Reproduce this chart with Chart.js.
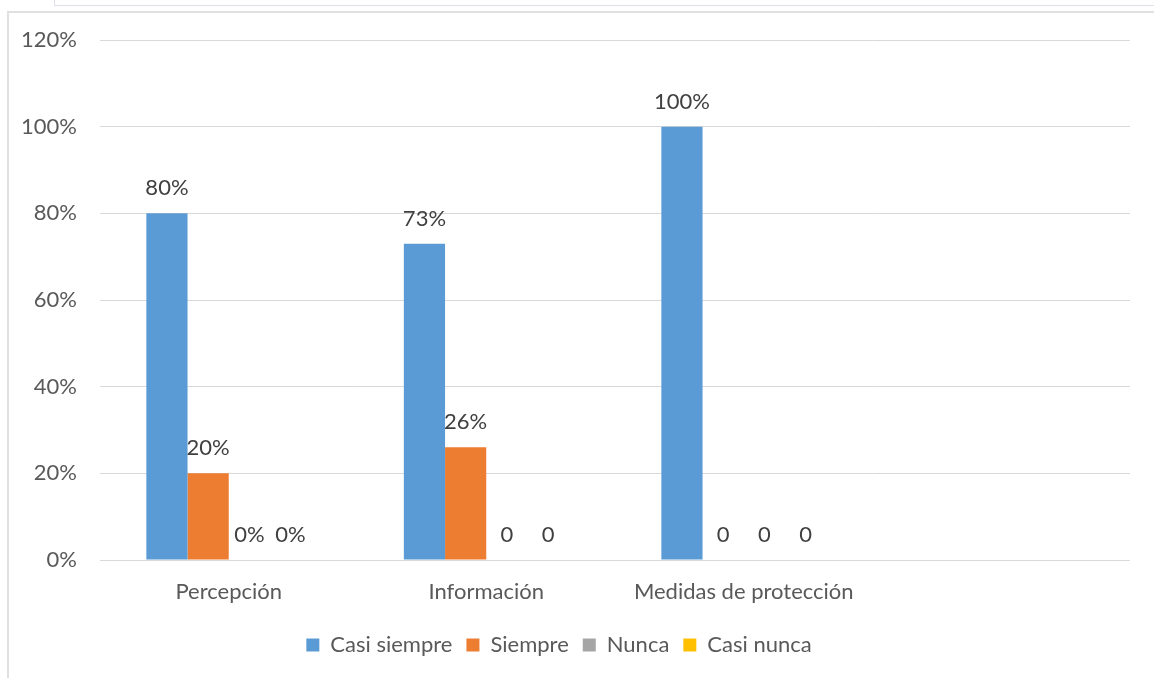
<!DOCTYPE html>
<html>
<head>
<meta charset="utf-8">
<script src="https://cdn.jsdelivr.net/npm/chart.js@4.4.0/dist/chart.umd.min.js"></script>
<style>
body { margin: 0; background: #fff; overflow: hidden; }
#wrap { position: relative; width: 1154px; height: 678px; overflow: hidden; }
#box1 { position: absolute; left: 54px; top: -20px; width: 1200px; height: 24px; border: 1px solid #dde0e8; }
#box2 { position: absolute; left: 7px; top: 11px; width: 1200px; height: 800px; border: 2px solid #e0e0e0; }
#chart { position: absolute; left: -12px; top: 0; }
</style>
</head>
<body>
<div id="wrap">
  <div id="box1"></div>
  <div id="box2"></div>
  <canvas id="chart" width="1142" height="678"></canvas>
</div>
<script>
var categories = ['Percepción', 'Información', 'Medidas de protección', '']
var seriesNames = ['Casi siempre', 'Siempre', 'Nunca', 'Casi nunca']
var seriesColors = ['#5B9BD5', '#ED7D31', '#A5A5A5', '#FFC000']

var casiSiempre = [0.80, 0.73, 1.00, null]
var siempre = [0.20, 0.26, 0, null]
var nunca = [0, 0, 0, null]
var casiNunca = [0, 0, 0, null]

// the labels as printed over each bar (some zeros show without %)
var casiSiempreLabels = ['80%', '73%', '100%', '']
var siempreLabels = ['20%', '26%', '0', '']
var nuncaLabels = ['0%', '0', '0', '']
var casiNuncaLabels = ['0%', '0', '0', '']

var yTickLabels = ['0%', '20%', '40%', '60%', '80%', '100%', '120%']

var FONT = 'Lato'
var FSIZE = 22

var values = [casiSiempre, siempre, nunca, casiNunca]
var valueLabels = [casiSiempreLabels, siempreLabels, nuncaLabels, casiNuncaLabels]

var barLabels = {
    id: 'barLabels',
    afterDatasetsDraw(chart) {
        var ctx = chart.ctx
        ctx.save()
        ctx.font = FSIZE + 'px ' + FONT
        ctx.fillStyle = '#404040'
        ctx.textAlign = 'center'
        ctx.textBaseline = 'middle'
        chart.data.datasets.forEach((ds, i) => {
            chart.getDatasetMeta(i).data.forEach((bar, j) => {
                var txt = valueLabels[i][j]
                if (!txt) return
                ctx.fillText(txt, bar.x, bar.y - 25)
            })
        })
        ctx.restore()
    }
}

var datasets = []
for (var i = 0; i < seriesNames.length; i++) {
    datasets.push({
        label: seriesNames[i],
        data: values[i],
        backgroundColor: seriesColors[i],
        borderWidth: 0
    })
}

var ctx = document.getElementById('chart').getContext('2d')
var myChart = new Chart(ctx, {
    type: 'bar',
    data: { labels: categories, datasets: datasets },
    plugins: [barLabels],
    options: {
        responsive: false,
        animation: false,
        layout: { padding: { top: 40, bottom: 12, left: 0, right: 0 } },
        datasets: { bar: { categoryPercentage: 0.64, barPercentage: 1.0 } },
        plugins: {
            tooltip: { enabled: false },
            legend: {
                position: 'bottom',
                labels: {
                    boxWidth: 13,
                    boxHeight: 13,
                    padding: 14,
                    color: '#595959',
                    font: { family: FONT, size: FSIZE }
                }
            }
        },
        scales: {
            x: {
                afterFit: (scale) => { scale.height = 60 },
                grid: { display: false, drawTicks: false },
                border: { color: '#d9d9d9', width: 1 },
                ticks: {
                    color: '#595959',
                    font: { family: FONT, size: FSIZE },
                    padding: 19,
                    autoSkip: false,
                    maxRotation: 0
                }
            },
            y: {
                min: 0,
                max: 1.2,
                afterFit: (scale) => { scale.width = 112 },
                grid: { color: '#d9d9d9', lineWidth: 1, drawTicks: false },
                border: { display: false },
                ticks: {
                    stepSize: 0.2,
                    padding: 23,
                    color: '#595959',
                    font: { family: FONT, size: FSIZE },
                    callback: (v, i) => yTickLabels[i]
                }
            }
        }
    }
})
</script>
</body>
</html>
